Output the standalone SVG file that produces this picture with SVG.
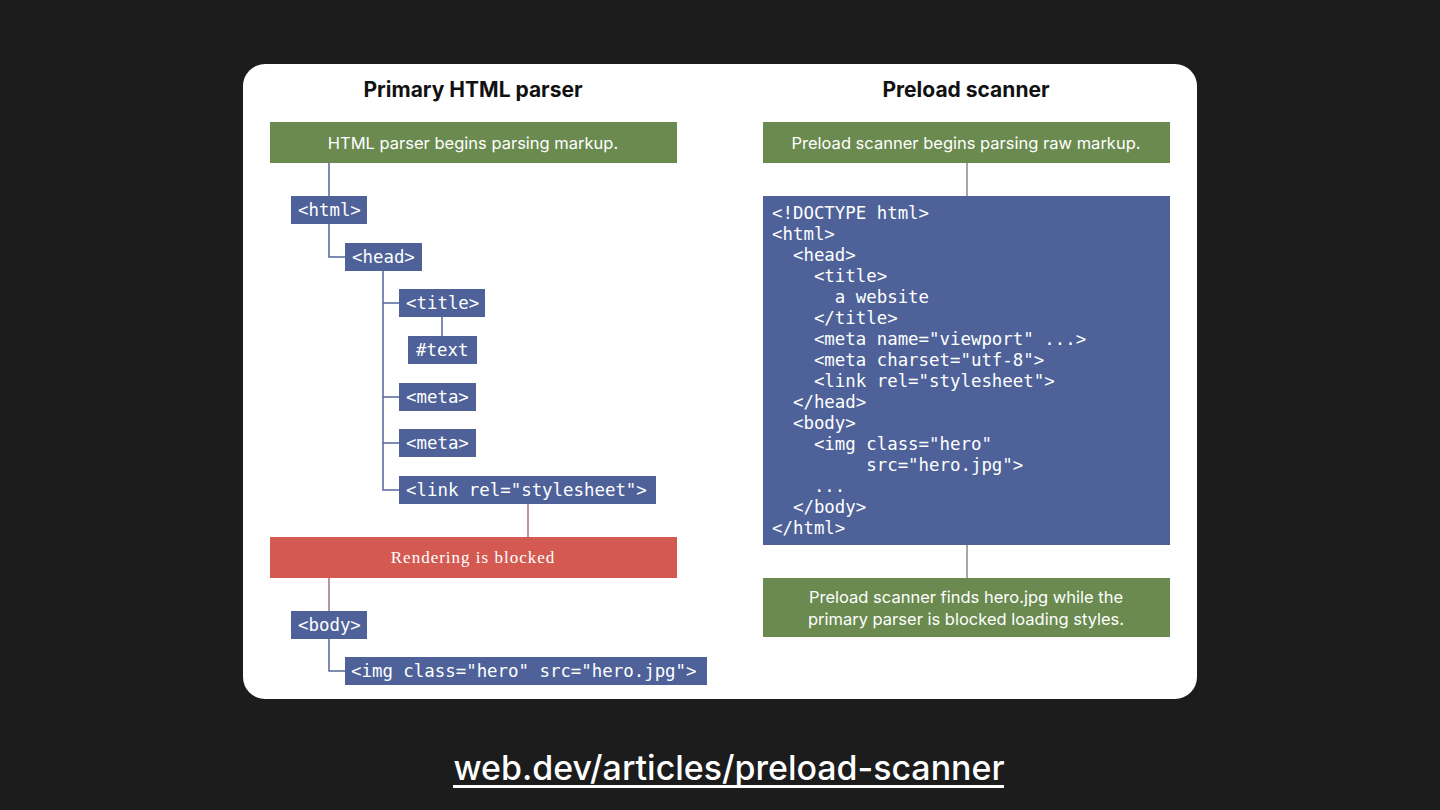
<svg xmlns="http://www.w3.org/2000/svg" width="1440" height="810" viewBox="0 0 1440 810">
<style>
.title{font-family:Inter,"Open Sans","Liberation Sans",sans-serif;font-weight:700;font-size:21px;fill:#111;text-anchor:middle}
.gtxt{font-family:Inter,"Open Sans","Liberation Sans",sans-serif;font-size:16.5px;fill:#fff;text-anchor:middle}
.code{font-family:"DejaVu Sans Mono","Liberation Mono",monospace;font-size:17.4px;fill:#fff;white-space:pre}
.green{fill:#6a8a4f}
.blue{fill:#4e6299}
.red{fill:#d45a51}
.tl{stroke:#56659a;stroke-width:1.5;fill:none}
.gl{stroke:#8a8a8a;stroke-width:1.5;fill:none}
.rl{stroke:#a07088;stroke-width:1.5;fill:none}
</style>
<rect width="1440" height="810" fill="#1c1c1c"/>
<rect x="243" y="64" width="954" height="635" rx="22" fill="#fff"/>
<text class="title" x="473" y="97">Primary HTML parser</text>
<text class="title" x="966" y="97">Preload scanner</text>
<g id="connectors">
<path class="tl" d="M329 163V196"/>
<path class="tl" d="M329 224V257H345"/>
<path class="tl" d="M383 271V490H399M383 303H399M383 397H399M383 443H399"/>
<path class="tl" d="M442 317V336"/>
<path class="rl" d="M528 504V537"/>
<path class="rl" d="M329 578V611"/>
<path class="tl" d="M329 639V671H345"/>
<path class="gl" d="M967 163V196"/>
<path class="gl" d="M967 545V578"/>
</g>
<g id="start-left"><rect class="green" x="270" y="122" width="407" height="41"/><text class="gtxt" x="473" y="149">HTML parser begins parsing markup.</text></g>
<g id="n-html"><rect class="blue" x="291" y="196" width="76" height="28"/><text class="code" x="298" y="216">&lt;html&gt;</text></g>
<g id="n-head"><rect class="blue" x="345" y="243" width="77" height="28"/><text class="code" x="352" y="263">&lt;head&gt;</text></g>
<g id="n-title"><rect class="blue" x="399" y="289" width="86" height="28"/><text class="code" x="406" y="309">&lt;title&gt;</text></g>
<g id="n-text"><rect class="blue" x="408" y="336" width="69" height="28"/><text class="code" x="416" y="356">#text</text></g>
<g id="n-meta1"><rect class="blue" x="399" y="383" width="77" height="28"/><text class="code" x="406" y="403">&lt;meta&gt;</text></g>
<g id="n-meta2"><rect class="blue" x="399" y="429" width="77" height="28"/><text class="code" x="406" y="449">&lt;meta&gt;</text></g>
<g id="n-link"><rect class="blue" x="399" y="476" width="257" height="28"/><text class="code" x="406" y="496">&lt;link rel="stylesheet"&gt;</text></g>
<g id="blocked"><rect class="red" x="270" y="537" width="407" height="41"/><text x="473" y="563" font-family="'Liberation Serif',serif" font-size="17" fill="#fff" text-anchor="middle" letter-spacing="1">Rendering is blocked</text></g>
<g id="n-body"><rect class="blue" x="291" y="611" width="76" height="28"/><text class="code" x="298" y="631">&lt;body&gt;</text></g>
<g id="n-img"><rect class="blue" x="345" y="657" width="362" height="28"/><text class="code" x="351" y="677">&lt;img class="hero" src="hero.jpg"&gt;</text></g>
<g id="start-right"><rect class="green" x="763" y="122" width="407" height="41"/><text class="gtxt" x="966" y="149">Preload scanner begins parsing raw markup.</text></g>
<g id="raw-markup"><rect class="blue" x="763" y="196" width="407" height="349"/>
<text class="code" x="772" y="219">&lt;!DOCTYPE html&gt;</text>
<text class="code" x="772" y="240">&lt;html&gt;</text>
<text class="code" x="772" y="261">  &lt;head&gt;</text>
<text class="code" x="772" y="282">    &lt;title&gt;</text>
<text class="code" x="772" y="303">      a website</text>
<text class="code" x="772" y="324">    &lt;/title&gt;</text>
<text class="code" x="772" y="345">    &lt;meta name="viewport" ...&gt;</text>
<text class="code" x="772" y="366">    &lt;meta charset="utf-8"&gt;</text>
<text class="code" x="772" y="387">    &lt;link rel="stylesheet"&gt;</text>
<text class="code" x="772" y="408">  &lt;/head&gt;</text>
<text class="code" x="772" y="429">  &lt;body&gt;</text>
<text class="code" x="772" y="450">    &lt;img class="hero"</text>
<text class="code" x="772" y="471">         src="hero.jpg"&gt;</text>
<text class="code" x="772" y="492">    ...</text>
<text class="code" x="772" y="513">  &lt;/body&gt;</text>
<text class="code" x="772" y="534">&lt;/html&gt;</text>
</g>
<g id="finds"><rect class="green" x="763" y="578" width="407" height="59"/><text class="gtxt" x="966" y="603">Preload scanner finds hero.jpg while the</text><text class="gtxt" x="966" y="625">primary parser is blocked loading styles.</text></g>
<text x="729" y="780" font-family="Inter,'Open Sans','Liberation Sans',sans-serif" font-weight="500" font-size="34" fill="#fff" text-anchor="middle" textLength="551" lengthAdjust="spacingAndGlyphs">web.dev/articles/preload-scanner</text>
<rect x="453" y="785" width="551" height="3" fill="#fff"/>
</svg>
